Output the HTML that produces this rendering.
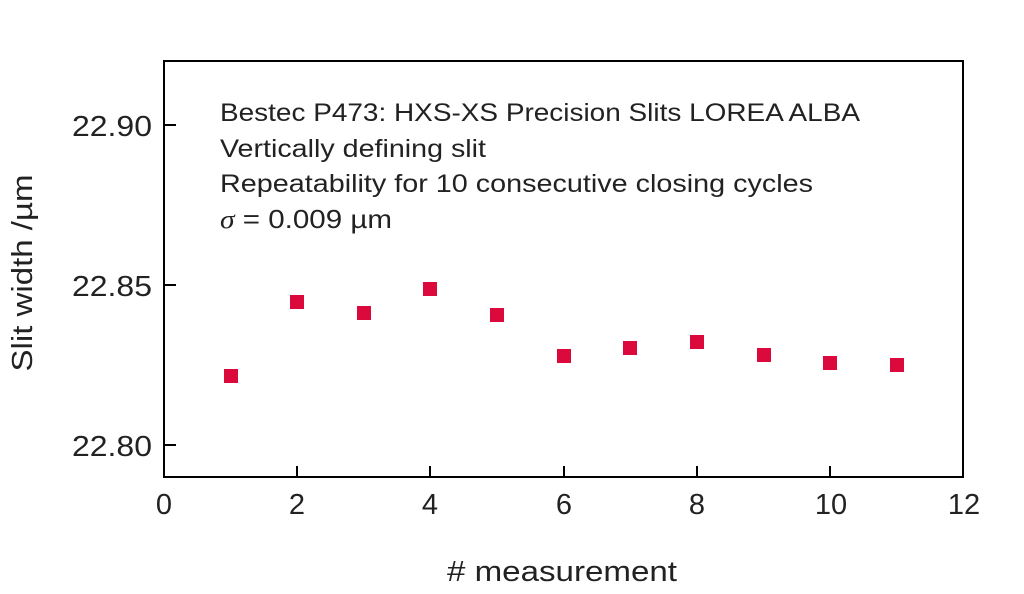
<!DOCTYPE html>
<html><head><style>body{margin:0;background:#fff}</style></head><body>
<svg width="1024" height="589" xmlns="http://www.w3.org/2000/svg" font-family="Liberation Sans, sans-serif">
<rect x="164" y="61" width="799" height="416" fill="none" stroke="#000" stroke-width="2"/>
<g stroke="#000" stroke-width="2">
<line x1="164" y1="125" x2="176" y2="125"/><line x1="164" y1="285" x2="176" y2="285"/><line x1="164" y1="445" x2="176" y2="445"/>
<line x1="297" y1="477" x2="297" y2="466"/><line x1="430" y1="477" x2="430" y2="466"/><line x1="564" y1="477" x2="564" y2="466"/><line x1="697" y1="477" x2="697" y2="466"/><line x1="830" y1="477" x2="830" y2="466"/>
</g>
<g font-size="29" fill="#222" text-anchor="end">
<text x="152" y="136" textLength="80" lengthAdjust="spacingAndGlyphs">22.90</text>
<text x="152" y="296" textLength="80" lengthAdjust="spacingAndGlyphs">22.85</text>
<text x="152" y="456" textLength="80" lengthAdjust="spacingAndGlyphs">22.80</text>
</g>
<g font-size="29" fill="#222" text-anchor="middle">
<text x="164" y="514">0</text><text x="297" y="514">2</text><text x="430" y="514">4</text><text x="564" y="514">6</text><text x="697" y="514">8</text><text x="831" y="514">10</text><text x="964" y="514">12</text>
<text x="562" y="581" textLength="230" lengthAdjust="spacingAndGlyphs"># measurement</text>
<text transform="translate(32,273) rotate(-90)" textLength="197" lengthAdjust="spacingAndGlyphs">Slit width /µm</text>
</g>
<g font-size="25" fill="#222">
<text x="220" y="121" textLength="640" lengthAdjust="spacingAndGlyphs">Bestec P473: HXS-XS Precision Slits LOREA ALBA</text>
<text x="220" y="157" textLength="266" lengthAdjust="spacingAndGlyphs">Vertically defining slit</text>
<text x="220" y="192" textLength="593" lengthAdjust="spacingAndGlyphs">Repeatability for 10 consecutive closing cycles</text>
<text x="220" y="228" font-size="26" textLength="172" lengthAdjust="spacingAndGlyphs"><tspan font-family="Liberation Serif, serif" font-style="italic">σ</tspan> = 0.009 µm</text>
</g>
<g fill="#dc0a3c">
<rect x="224" y="369" width="14" height="14"/>
<rect x="290" y="295" width="14" height="14"/>
<rect x="357" y="306" width="14" height="14"/>
<rect x="423" y="282" width="14" height="14"/>
<rect x="490" y="308" width="14" height="14"/>
<rect x="557" y="349" width="14" height="14"/>
<rect x="623" y="341" width="14" height="14"/>
<rect x="690" y="335" width="14" height="14"/>
<rect x="757" y="348" width="14" height="14"/>
<rect x="823" y="356" width="14" height="14"/>
<rect x="890" y="358" width="14" height="14"/>
</g>
</svg>
</body></html>
